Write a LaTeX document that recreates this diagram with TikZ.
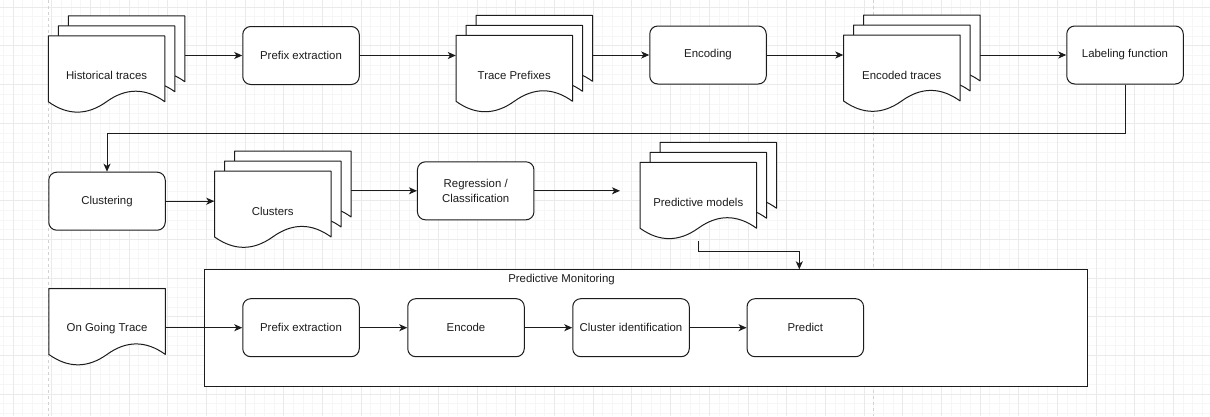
\documentclass[tikz,border=0pt]{standalone}
\usepackage{fontspec}
\setmainfont{Liberation Sans}
\usetikzlibrary{arrows.meta,calc}

\definecolor{gridminor}{HTML}{F6F6F6}
\definecolor{gridmajor}{HTML}{EAEAEA}
\definecolor{pagebreak}{HTML}{D2D2D2}
\definecolor{ink}{HTML}{1C1C1C}

\tikzset{
  labelfont/.style={font=\fontsize{11.4}{14.3}\selectfont, text=ink, align=center},
  stepbox/.style={labelfont, draw=ink, line width=1pt, fill=white, rounded corners=8pt,
    minimum width=116.5pt, minimum height=58pt, inner sep=1pt},
  sheet/.style={draw=ink, line width=1pt, fill=white, line join=round},
  sheetarea/.style={labelfont, minimum width=116.5pt, minimum height=77.5pt, inner sep=0pt},
  stackarea/.style={minimum width=136.5pt, minimum height=97.5pt, inner sep=0pt},
  frame/.style={draw=ink, line width=1pt, fill=white, inner sep=0pt},
  flow/.style={draw=ink, line width=1pt, -{Stealth[length=8pt,width=7pt,inset=2.2pt]}},
  gminor/.style={draw=gridminor, line width=0.8pt},
  gmajor/.style={draw=gridmajor, line width=0.8pt},
  pbreak/.style={draw=pagebreak, line width=1pt, dash pattern=on 3pt off 3pt},
}

% one wavy-bottomed sheet, top-left corner at (#1,#2)
\newcommand\drawsheet[2]{%
  \draw[sheet, shift={(#1,#2)}] (0,0) -- (116.5,0) -- (116.5,65.9)
    .. controls (97.1,51.9) and (77.7,51.9) .. (58.25,65.9)
    .. controls (38.8,79.8) and (19.4,79.8) .. (0,65.9) -- cycle;}

% single document: left x, top y, name, label
\newcommand\docnode[4]{%
  \drawsheet{#1}{#2}
  \node[sheetarea] (#3) at ({#1+58.25},{#2+40}) {#4};}

% stack of three documents: front sheet left x, top y, name, label
\newcommand\docstack[4]{%
  \drawsheet{#1+20}{#2-20}
  \drawsheet{#1+10}{#2-10}
  \drawsheet{#1}{#2}
  \node[sheetarea] (#3) at ({#1+58.25},{#2+40}) {#4};
  \node[stackarea] (#3-stack) at ({#1+68.25},{#2+28.75}) {};}

\begin{document}
\begin{tikzpicture}[x=1pt, y=-1pt]
\useasboundingbox (0,0) rectangle (1210,416);
\fill[white] (0,0) rectangle (1210,416);

% background grid
\foreach \k in {-1,...,125} \draw[gminor] ({13+9.67*\k},0) -- ({13+9.67*\k},416);
\foreach \k in {0,...,43} \draw[gminor] (0,{7.2+9.67*\k}) -- (1210,{7.2+9.67*\k});
\foreach \k in {0,...,31} \draw[gmajor] ({13+38.68*\k},0) -- ({13+38.68*\k},416);
\foreach \k in {0,...,10} \draw[gmajor] (0,{7.2+38.68*\k}) -- (1210,{7.2+38.68*\k});

% page breaks
\draw[pbreak] (48.8,0) -- (48.8,416);
\draw[pbreak] (873,0) -- (873,416);

% monitoring frame
\node[frame, minimum width=883pt, minimum height=116.7pt] (mon) at (645.5,327.7) {};
\node[labelfont] (montitle) at (561.5,279.6) {Predictive Monitoring};
\coordinate (mondrop) at (799.3,269.3);

% first row
\docstack{48.3}{35.8}{hist}{Historical traces}
\node[stepbox] (pfx) at (301,55.5) {Prefix extraction};
\docstack{456}{35.4}{prefixes}{Trace Prefixes}
\node[stepbox] (enc) at (708,55) {Encoding};
\docstack{843.5}{35}{encoded}{Encoded traces}
\node[stepbox] (lab) at (1125,55) {Labeling function};

% second row
\node[stepbox] (clu) at (107,201.2) {Clustering};
\docstack{214.5}{171}{clusters}{Clusters}
\node[stepbox] (reg) at (475.7,190.8) {Regression /\\Classification};
\coordinate (regtip) at (620,190.8);
\docstack{640}{162.3}{models}{Predictive models}

% third row
\docnode{48.8}{288.5}{ongoing}{On Going Trace}
\node[stepbox] (pfx2) at (301,327.7) {Prefix extraction};
\node[stepbox] (enc2) at (466,327.7) {Encode};
\node[stepbox] (cid) at (631,327.7) {Cluster identification};
\node[stepbox] (pred) at (805.3,327.7) {Predict};

% connectors
\draw[flow] (hist-stack.east |- pfx.west) -- (pfx.west);
\draw[flow] (pfx.east) -- (prefixes.west |- pfx.east);
\draw[flow] (prefixes-stack.east |- enc.west) -- (enc.west);
\draw[flow] (enc.east) -- (encoded.west |- enc.east);
\draw[flow] (encoded-stack.east |- lab.west) -- (lab.west);
\draw[flow] (lab.south) -- ++(0,49) -| (clu.north);
\draw[flow] (clu.east) -- (clusters.west |- clu.east);
\draw[flow] (clusters-stack.east |- reg.west) -- (reg.west);
\draw[flow] (reg.east) -- (regtip);
\draw[flow] (models.south) -- ++(0,10.3) -| (mondrop);
\draw[flow] (ongoing.east |- pfx2.west) -- (pfx2.west);
\draw[flow] (pfx2.east) -- (enc2.west);
\draw[flow] (enc2.east) -- (cid.west);
\draw[flow] (cid.east) -- (pred.west);
\end{tikzpicture}
\end{document}
